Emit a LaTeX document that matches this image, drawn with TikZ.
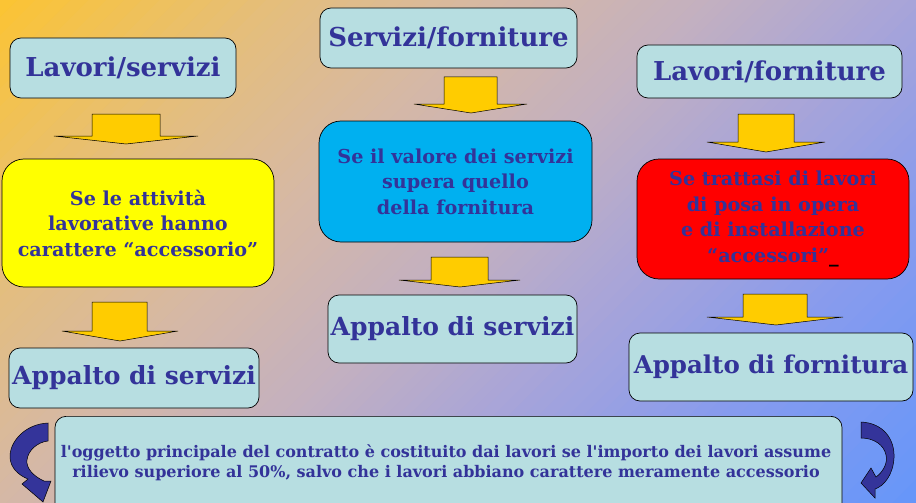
\documentclass[tikz,border=0pt]{standalone}
\usepackage{fontspec}
\setmainfont{DejaVu Serif}
\definecolor{txt}{RGB}{51,51,153}
\definecolor{boxcyan}{RGB}{183,222,225}
\definecolor{condyellow}{RGB}{255,255,0}
\definecolor{condblue}{RGB}{0,176,240}
\definecolor{condred}{RGB}{255,0,0}
\definecolor{arrowyellow}{RGB}{255,204,0}
\definecolor{curveblue}{RGB}{52,52,154}
\definecolor{bg0}{RGB}{252,196,50}
\definecolor{bg1}{RGB}{228,190,125}
\definecolor{bg2}{RGB}{214,184,165}
\definecolor{bg3}{RGB}{195,176,192}
\definecolor{bg4}{RGB}{170,165,215}
\definecolor{bg5}{RGB}{135,155,238}
\definecolor{bg6}{RGB}{100,150,250}
\newcommand\yarrow[8]{\draw[yarr] (#1,#3) -- (#1,#6) -- (#4,#6) -- (#7,#8) -- (#5,#6) -- (#2,#6) -- (#2,#3) -- cycle;}
\newcommand\bgseg[4]{%
  \foreach \k in {0,...,15}{%
    \pgfmathsetmacro\ca{1419*(#1+(#2-#1)*\k/16)}%
    \pgfmathsetmacro\cb{1419*(#1+(#2-#1)*(\k+1)/16)+1.5}%
    \pgfmathsetmacro\pct{100-100*(\k+0.5)/16}%
    \fill[#3!\pct!#4] (\ca,0) -- (\cb,0) -- (0,\cb) -- (0,\ca) -- cycle;}}
\begin{document}
\begin{tikzpicture}[x=1pt,y=-1pt,
  box/.style={draw=black, line width=0.7pt, rounded corners=11pt, fill=boxcyan, text=txt, font=\bfseries, align=center, inner sep=0pt},
  titlefont/.style={font=\bfseries\fontsize{26}{30}\selectfont},
  resfont/.style={font=\bfseries\fontsize{25}{30}\selectfont},
  condfont/.style={font=\bfseries\fontsize{19.2}{25.5}\selectfont},
  notefont/.style={font=\bfseries\fontsize{16}{20}\selectfont},
  yarr/.style={draw=black, line width=0.5pt, fill=arrowyellow, line join=miter},
  carr/.style={draw=black, line width=0.5pt, fill=curveblue}]
\clip (0,0) rectangle (916,503);
\useasboundingbox (0,0) rectangle (916,503);
% background gradient
\bgseg{0}{0.2}{bg0}{bg1}
\bgseg{0.2}{0.35}{bg1}{bg2}
\bgseg{0.35}{0.5}{bg2}{bg3}
\bgseg{0.5}{0.63}{bg3}{bg4}
\bgseg{0.63}{0.8}{bg4}{bg5}
\bgseg{0.8}{1.01}{bg5}{bg6}

% top boxes
\node[box, titlefont, minimum width=226pt, minimum height=60pt] (t1) at (123,68) {Lavori/servizi};
\node[box, titlefont, minimum width=257pt, minimum height=60pt] (t2) at (448.5,38) {Servizi/forniture};
\node[box, titlefont, minimum width=265pt, minimum height=53pt] (t3) at (769.5,71.5) {Lavori/forniture};

% condition boxes
\node[box, condfont, fill=condyellow, rounded corners=22pt, minimum width=272pt, minimum height=128pt] (c1) at (138,223) {Se le attività\\lavorative hanno\\carattere “accessorio”};
\node[box, condfont, fill=condblue, rounded corners=22pt, minimum width=273pt, minimum height=121pt] (c2) at (455.5,181.5) {Se il valore dei servizi\\supera quello\\della fornitura};
\node[box, condfont, fill=condred, rounded corners=22pt, minimum width=272pt, minimum height=120pt] (c3) at (773,219) {Se trattasi di lavori\\di posa in opera\\e di installazione\\“accessori”{\color{black}\_}};

% result boxes
\node[box, resfont, minimum width=250pt, minimum height=60pt] (r1) at (134,378) {Appalto di servizi};
\node[box, resfont, minimum width=249pt, minimum height=68pt] (r2) at (452.5,329) {Appalto di servizi};
\node[box, resfont, font=\bfseries\fontsize{24.5}{30}\selectfont, minimum width=284pt, minimum height=68pt] (r3) at (771,367) {Appalto di fornitura};

% bottom note
\node[box, minimum width=787pt, minimum height=104pt, anchor=north] (b) at (448.5,416) {};
\node[notefont, text=txt, align=center] (bt) at (446,463) {l\textquotesingle oggetto principale del contratto è costituito dai lavori se l\textquotesingle importo dei lavori assume\\rilievo superiore al 50\%, salvo che i lavori abbiano carattere meramente accessorio};

% yellow block arrows
\yarrow{92}{160}{114}{54}{198}{136}{126}{144}
\yarrow{444}{497}{77}{414}{527}{104}{471}{113}
\yarrow{431}{488}{257}{399}{520}{280}{460}{287}
\yarrow{738}{794}{114}{707}{825}{142}{766}{152}
\yarrow{92}{147}{302}{62}{178}{331}{120}{341}
\yarrow{743}{807}{294}{707}{843}{317}{776}{325}

% curved arrows
\draw[carr] (48,423) .. controls (25,424) and (9,442) .. (10,458) .. controls (11,468) and (18,475) .. (28,479) -- (22,484) -- (43,502) -- (51,481) -- (44,481) .. controls (33,476) and (26,468) .. (27,460) .. controls (28,450) and (38,442) .. (48,441) -- cycle;
\draw[carr] (861,422) .. controls (884,423) and (895,440) .. (894,458) .. controls (893,475) and (884,486) .. (875,489) -- (875,498) -- (861,483) -- (871,468) -- (876,477) .. controls (883,472) and (888,463) .. (886,455) .. controls (884,445) and (874,438) .. (861,438) -- cycle;
\end{tikzpicture}
\end{document}
